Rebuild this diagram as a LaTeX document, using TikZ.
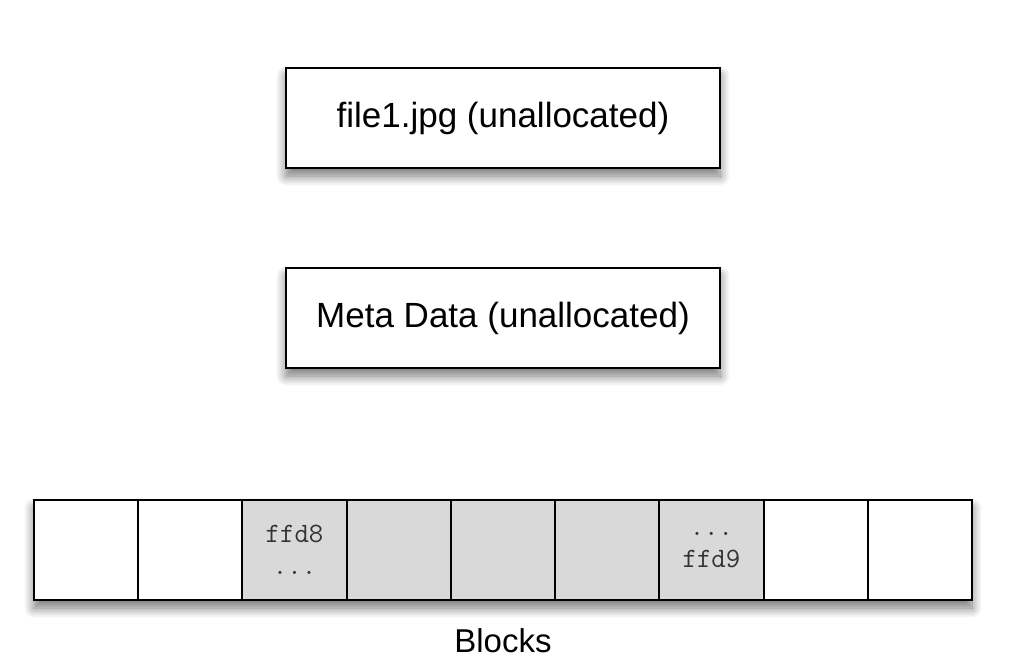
\documentclass[tikz,border=0pt]{standalone}
\usepackage{fontspec}
\setmainfont{Liberation Sans}
\usetikzlibrary{shadows.blur}
\begin{document}
\begin{tikzpicture}[x=1pt,y=-1pt,
  soft/.style={blur shadow={shadow xshift=0pt, shadow yshift=-8pt, shadow blur radius=10pt,
    shadow opacity=55, shadow blur steps=12}},
  box/.style={draw=black, line width=2pt, fill=white, minimum width=434pt, minimum height=100pt,
    inner sep=0pt, font=\fontsize{35}{40}\selectfont, soft},
  strip/.style={draw=black, line width=2pt, fill=white, minimum width=938pt, minimum height=100pt,
    inner sep=0pt, soft},
  cell/.style={draw=black, line width=2pt, fill=white, minimum width=104.22pt, minimum height=100pt,
    inner sep=0pt, align=center, font=\ttfamily\fontsize{28}{32}\selectfont, text=black!80},
  used/.style={cell, fill=black!15},
  caption/.style={font=\fontsize{33}{40}\selectfont}]
  \useasboundingbox (0,0) rectangle (1011,664);

  % file and metadata entries
  \node[box] (file) at (503,118) {file1.jpg (unallocated)};
  \node[box] (meta) at (503,318) {Meta Data (unallocated)};

  % block strip
  \node[strip] (row) at (503,550) {};
  \node[cell] (c1) at (86.11,550) {};
  \node[cell] (c2) at (190.33,550) {};
  \node[used] (c3) at (294.55,550) {ffd8\\...};
  \node[used] (c4) at (398.77,550) {};
  \node[used] (c5) at (503,550) {};
  \node[used] (c6) at (607.22,550) {};
  \node[used] (c7) at (711.44,550) {...\\ffd9};
  \node[cell] (c8) at (815.66,550) {};
  \node[cell] (c9) at (919.88,550) {};

  \node[caption, anchor=base] (lbl) at (503,652) {Blocks};
\end{tikzpicture}
\end{document}
